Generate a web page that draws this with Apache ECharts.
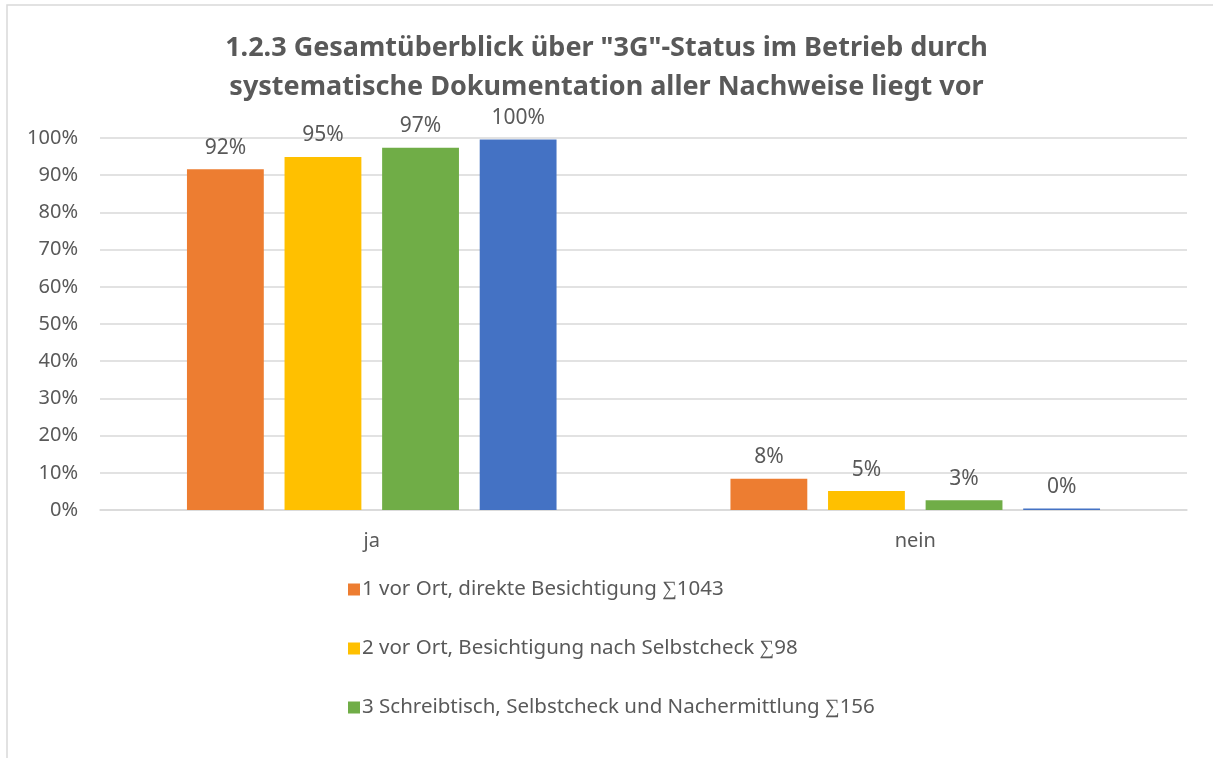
<!DOCTYPE html>
<html>
<head>
<meta charset="utf-8">
<script src="https://cdn.jsdelivr.net/npm/echarts@6/dist/echarts.min.js"></script>
<style>
  html, body { margin: 0; padding: 0; background: #fff; }
  #chart { width: 1213px; height: 758px; }
</style>
</head>
<body>
<div id="chart"></div>
<script>
const categories = ['ja', 'nein'];
const seriesNames = [
    '1 vor Ort, direkte Besichtigung ∑1043',
    '2 vor Ort, Besichtigung nach Selbstcheck ∑98',
    '3 Schreibtisch, Selbstcheck und Nachermittlung ∑156',
    '4 gesamt'
];
const seriesColors = ['#ed7d31', '#ffc000', '#70ad47', '#4472c4'];
const serie1 = [91.6, 8.4];
const serie2 = [94.9, 5.1];
const serie3 = [97.4, 2.6];
const serie4 = [99.6, 0.4];
const seriesValues = [serie1, serie2, serie3, serie4];

const chart = echarts.init(document.getElementById('chart'));
const fontFamily = 'Noto Sans';

const series = seriesValues.map(function (values, i) {
    return {
        name: seriesNames[i],
        type: 'bar',
        data: values,
        barGap: '27%',
        barCategoryGap: '32%',
        itemStyle: { color: seriesColors[i] },
        label: {
            show: true,
            position: 'top',
            distance: 11,
            color: '#595959',
            fontFamily: fontFamily,
            fontSize: 21,
            formatter: function (p) { return Math.round(p.value) + '%'; }
        }
    };
});

const option = {
    backgroundColor: '#fff',
    animation: false,
    title: {
        text: '1.2.3 Gesamtüberblick über "3G"-Status im Betrieb durch\nsystematische Dokumentation aller Nachweise liegt vor',
        left: 'center',
        top: 24,
        textStyle: {
            color: '#595959',
            fontFamily: fontFamily,
            fontWeight: 'bold',
            fontSize: 27,
            lineHeight: 39
        }
    },
    graphic: [{
        type: 'rect',
        shape: { x: 7, y: 5, width: 1400, height: 1000 },
        style: { fill: 'none', stroke: '#d9d9d9', lineWidth: 1.5 },
        silent: true
    }],
    legend: {
        data: seriesNames.slice(0, 3),
        orient: 'vertical',
        left: 343,
        top: 574,
        itemWidth: 12,
        itemHeight: 12,
        itemGap: 38,
        icon: 'rect',
        textStyle: { color: '#595959', fontFamily: fontFamily, fontSize: 20.5, padding: [0, 0, 0, -3] }
    },
    grid: { left: 100, right: 26, top: 138, bottom: 248 },
    xAxis: {
        type: 'category',
        data: categories,
        axisLine: { lineStyle: { color: '#d9d9d9', width: 1.5 } },
        axisTick: { show: false },
        axisLabel: { color: '#595959', fontFamily: fontFamily, fontSize: 20, margin: 21 }
    },
    yAxis: {
        type: 'value',
        min: 0,
        max: 100,
        interval: 10,
        axisLine: { show: false },
        axisTick: { show: false },
        splitLine: { lineStyle: { color: '#d9d9d9', width: 1.5 } },
        axisLabel: {
            color: '#595959',
            fontFamily: fontFamily,
            fontSize: 20,
            margin: 22,
            formatter: '{value}%'
        }
    },
    series: series
};

chart.setOption(option);
</script>
</body>
</html>
